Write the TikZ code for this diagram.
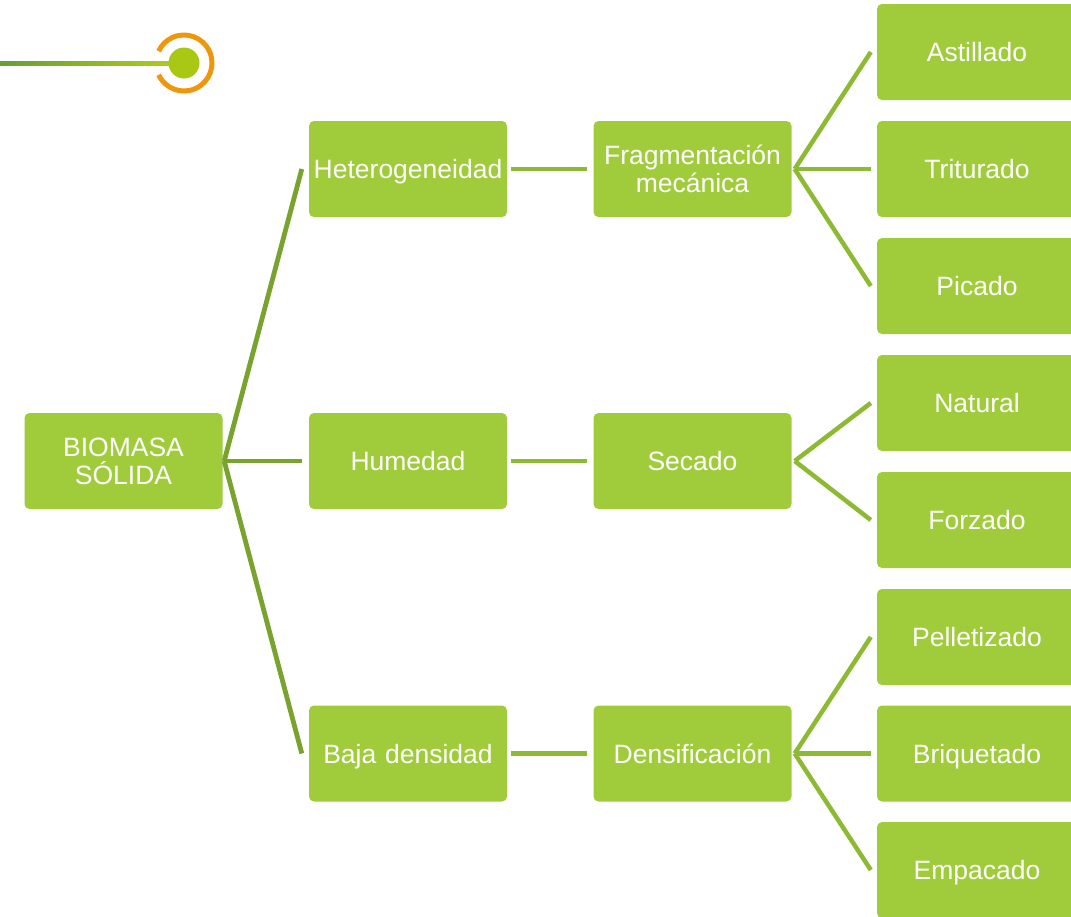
\documentclass[tikz,border=0pt]{standalone}
\usepackage{fontspec}
\setmainfont{Liberation Sans}
\definecolor{boxgreen}{RGB}{160,204,60}
\definecolor{lineA}{RGB}{122,162,46}
\definecolor{lineB}{RGB}{141,186,51}
\definecolor{dotgreen}{RGB}{168,200,20}
\definecolor{ringorange}{RGB}{240,150,10}
\definecolor{barL}{RGB}{104,158,52}
\definecolor{barR}{RGB}{172,204,30}
\tikzset{
  gbox/.style={fill=boxgreen, rounded corners=5pt, minimum height=96pt, inner sep=2pt,
    text=white, align=center, font=\fontsize{26.5}{28.5}\selectfont,
    text height=19pt, text depth=0pt},
  twoline/.style={text depth=28.5pt},
  wbox/.style={gbox, minimum width=198pt, text width=194pt},
  rbox/.style={gbox, minimum width=200pt, text width=194pt},
  conA/.style={draw=lineA, line width=4.8pt},
  conB/.style={draw=lineB, line width=4.5pt},
}
\begin{document}
\begin{tikzpicture}[x=1pt,y=-1pt]
\useasboundingbox (0,0) rectangle (1071,916);
\clip (0,0) rectangle (1071,916);
% decoration
\shade[left color=barL, right color=barR] (0,61.5) rectangle (172,65.5);
\fill[dotgreen] (184,63) circle (15.5);
\draw[ringorange, line width=5pt] (184,63) ++(155:28) arc[start angle=155, end angle=-155, radius=28];
% nodes
\node[wbox, twoline, minimum width=197pt] (bio) at (123.5,461) {BIOMASA\\SÓLIDA};
\node[wbox] (het) at (408,169) {Heterogeneidad};
\node[wbox] (hum) at (408,461) {Humedad};
\node[wbox] (baj) at (408,753.5) {Baja densidad};
\node[wbox, twoline, minimum width=197pt] (fra) at (692.5,169) {Fragmentación\\mecánica};
\node[wbox, minimum width=197pt] (sec) at (692.5,461) {Secado};
\node[wbox, minimum width=197pt] (den) at (692.5,753.5) {Densificación};
\node[rbox] (ast) at (977,52) {Astillado};
\node[rbox] (tri) at (977,169) {Triturado};
\node[rbox] (pic) at (977,286) {Picado};
\node[rbox] (nat) at (977,403) {Natural};
\node[rbox] (for) at (977,520) {Forzado};
\node[rbox] (pel) at (977,637) {Pelletizado};
\node[rbox] (bri) at (977,753.5) {Briquetado};
\node[rbox] (emp) at (977,870) {Empacado};
% connectors level 0 -> 1
\coordinate (j0) at ([xshift=1.5pt]bio.east);
\draw[conA] (j0) -- ([xshift=-7pt]het.west);
\draw[conA] (j0) -- ([xshift=-7pt]hum.west);
\draw[conA] (j0) -- ([xshift=-7pt]baj.west);
% level 1 -> 2
\draw[conB] ([xshift=4pt]het.east) -- ([xshift=-6pt]fra.west);
\draw[conB] ([xshift=4pt]hum.east) -- ([xshift=-6pt]sec.west);
\draw[conB] ([xshift=4pt]baj.east) -- ([xshift=-6pt]den.west);
% level 2 -> 3
\coordinate (j1) at ([xshift=3pt]fra.east);
\coordinate (j2) at ([xshift=3pt]sec.east);
\coordinate (j3) at ([xshift=3pt]den.east);
\foreach \t in {ast,tri,pic} \draw[conB] (j1) -- ([xshift=-6pt]\t.west);
\foreach \t in {nat,for} \draw[conB] (j2) -- ([xshift=-6pt]\t.west);
\foreach \t in {pel,bri,emp} \draw[conB] (j3) -- ([xshift=-6pt]\t.west);
\end{tikzpicture}
\end{document}
